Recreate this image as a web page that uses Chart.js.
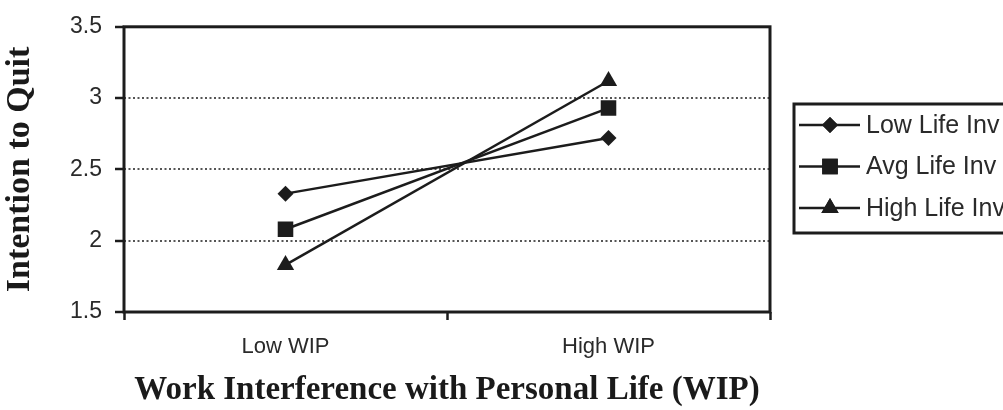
<!DOCTYPE html>
<html>
<head>
<meta charset="utf-8">
<script src="https://cdn.jsdelivr.net/npm/chart.js@4/dist/chart.umd.min.js"></script>
<style>
html,body{margin:0;padding:0;background:#fff;}
#wrap{width:1003px;height:410px;}
</style>
</head>
<body>
<div id="wrap"><canvas id="c" width="1003" height="410"></canvas></div>
<script>
const categories = ["Low WIP", "High WIP"];
const seriesNames = ["Low Life Inv", "Avg Life Inv", "High Life Inv"];
const lowLifeInv = [2.33, 2.72];
const avgLifeInv = [2.08, 2.93];
const highLifeInv = [1.83, 3.12];
const pointStyles = ["rectRot", "rect", "triangle"];
const pointRadii = [8, 11, 10];
const yTicks = [1.5, 2, 2.5, 3, 3.5];
const yTitle = "Intention to Quit";
const xTitle = "Work Interference with Personal Life (WIP)";

const INK = "#1c1c1c";
const seriesValues = [lowLifeInv, avgLifeInv, highLifeInv];

const boxPlugin = {
  id: "boxPlugin",
  beforeDatasetsDraw(chart) {
    const a = chart.chartArea, ctx = chart.ctx;
    ctx.save();
    ctx.strokeStyle = INK;
    ctx.lineWidth = 3;
    ctx.strokeRect(a.left, a.top, a.right - a.left, a.bottom - a.top);
    ctx.restore();
  }
};

const legendPlugin = {
  id: "boxLegend",
  afterDraw(chart) {
    const ctx = chart.ctx;
    const bx = 794, by = 104, bh = 129;
    ctx.save();
    ctx.strokeStyle = INK;
    ctx.lineWidth = 3;
    ctx.strokeRect(bx, by, 400, bh);
    const rows = [125, 166.5, 208];
    chart.data.datasets.forEach((ds, i) => {
      const y = rows[i];
      ctx.strokeStyle = INK;
      ctx.lineWidth = 2.5;
      ctx.beginPath();
      ctx.moveTo(799, y);
      ctx.lineTo(860, y);
      ctx.stroke();
      ctx.fillStyle = INK;
      Chart.helpers.drawPoint(ctx, {pointStyle: ds.pointStyle, radius: ds.pointRadius, borderWidth: 0, rotation: 0}, 830, y);
      ctx.fill();
      ctx.fillStyle = "#2a2a2a";
      ctx.font = "25px 'Liberation Sans', Arial, sans-serif";
      ctx.textBaseline = "middle";
      ctx.textAlign = "left";
      ctx.fillText(ds.label, 866, y + 1);
    });
    ctx.restore();
  }
};

new Chart(document.getElementById("c"), {
  type: "line",
  data: {
    labels: categories,
    datasets: seriesNames.map((name, i) => ({
      label: name,
      data: seriesValues[i],
      borderColor: INK,
      backgroundColor: INK,
      borderWidth: 2.5,
      pointStyle: pointStyles[i],
      pointRadius: pointRadii[i],
      pointHoverRadius: pointRadii[i],
      pointBorderWidth: 0,
      pointBackgroundColor: INK,
      tension: 0
    }))
  },
  options: {
    responsive: false,
    animation: false,
    events: [],
    layout: { padding: { left: 0, right: 233, top: 25, bottom: 0 } },
    plugins: {
      legend: { display: false },
      tooltip: { enabled: false }
    },
    scales: {
      x: {
        type: "category",
        offset: true,
        grid: {
          offset: true,
          drawOnChartArea: false,
          drawTicks: true,
          tickLength: 8,
          tickColor: INK,
          tickWidth: 2.5
        },
        border: { display: false },
        ticks: {
          color: "#2a2a2a",
          font: { family: "'Liberation Sans', Arial, sans-serif", size: 22 },
          padding: 14,
          maxRotation: 0
        },
        title: {
          display: true,
          text: xTitle,
          color: "#1a1a1a",
          font: { family: "'Liberation Serif', 'Times New Roman', serif", size: 33, weight: "bold" },
          padding: { top: 10, bottom: 0 }
        },
        afterFit(scale) { scale.height = 98; }
      },
      y: {
        min: 1.5,
        max: 3.5,
        afterBuildTicks(scale) { scale.ticks = yTicks.map(v => ({ value: v })); },
        grid: {
          drawTicks: true,
          tickLength: 9,
          tickColor: INK,
          tickWidth: 2.5,
          tickBorderDash: [],
          color: (c) => (c.tick && (c.tick.value === 1.5 || c.tick.value === 3.5)) ? "rgba(0,0,0,0)" : "#555",
          lineWidth: 2
        },
        border: { display: false, dash: [2, 2.5] },
        ticks: {
          color: "#2a2a2a",
          font: { family: "'Liberation Sans', Arial, sans-serif", size: 23 },
          padding: 13,
          callback: (v) => String(v)
        },
        title: {
          display: true,
          text: yTitle,
          color: "#1a1a1a",
          font: { family: "'Liberation Serif', 'Times New Roman', serif", size: 34, weight: "bold" },
          padding: { top: 0, bottom: 0 }
        },
        afterFit(scale) { scale.width = 124; }
      }
    }
  },
  plugins: [boxPlugin, legendPlugin]
});
</script>
</body>
</html>
